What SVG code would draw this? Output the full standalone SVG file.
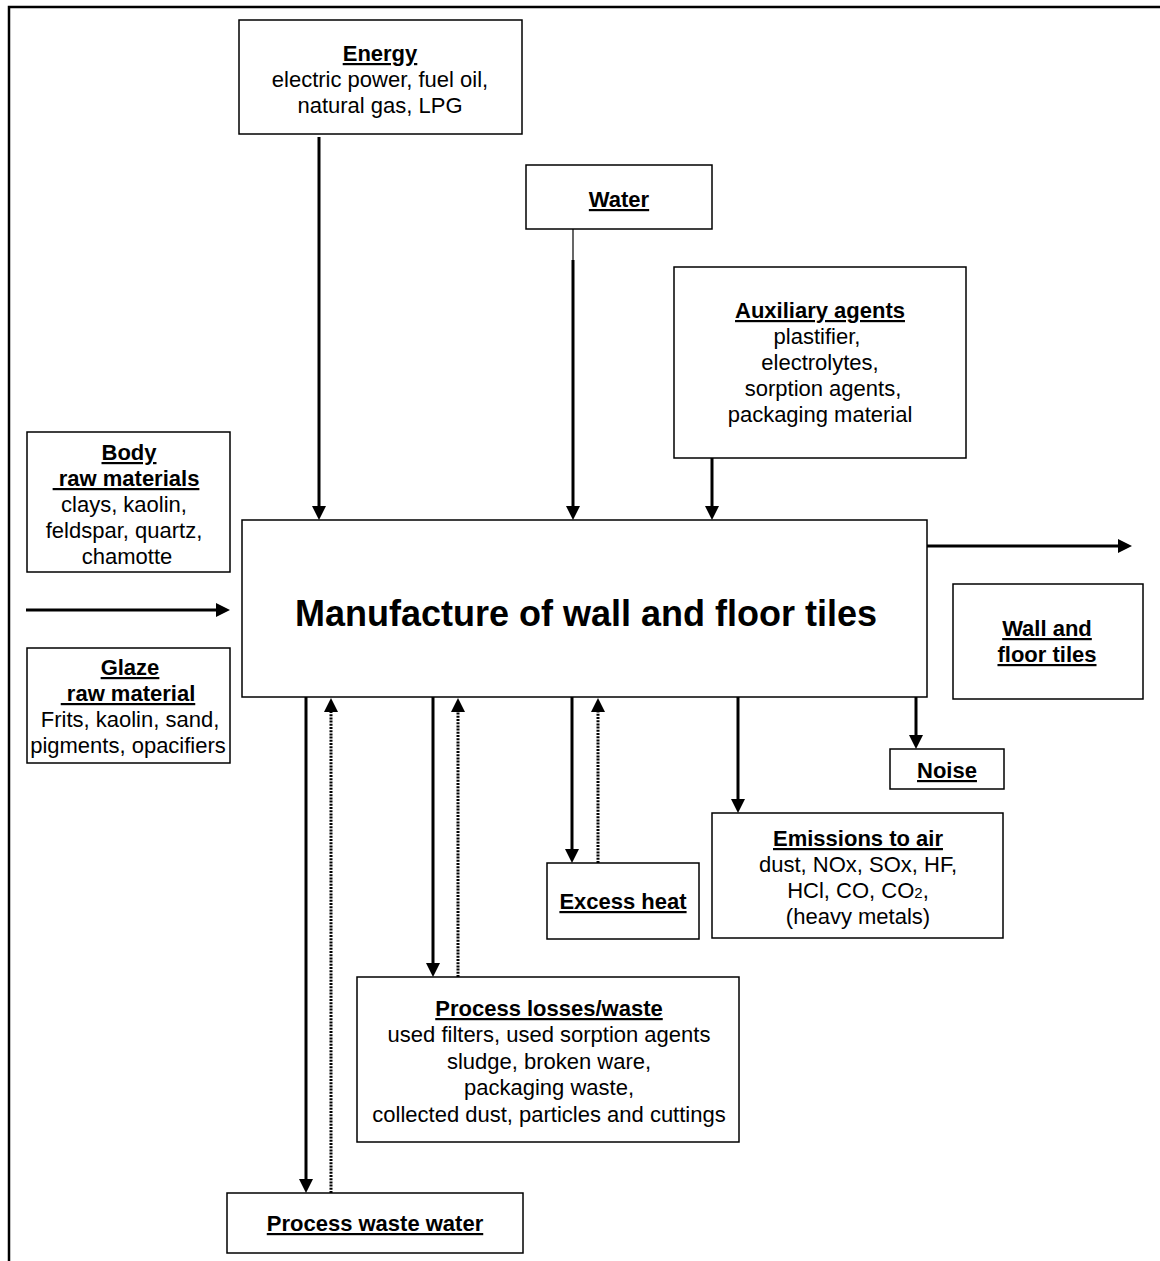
<svg xmlns="http://www.w3.org/2000/svg" width="1160" height="1261" viewBox="0 0 1160 1261">
<style>
  .box { fill: #fff; stroke: #000; stroke-width: 1.5; }
  .frame { fill: none; stroke: #000; stroke-width: 2.5; }
  text { font-family: "Liberation Sans", Arial, sans-serif; font-size: 22px; fill: #000; text-anchor: middle; }
  .h { font-weight: bold; text-decoration: underline; }
  .title { font-weight: bold; font-size: 36px; }
  .flow { fill: none; stroke: #000; stroke-width: 3; }
  .thin { fill: none; stroke: #000; stroke-width: 1.2; }
  .dot { fill: none; stroke: #000; stroke-width: 3; stroke-dasharray: 2 1.2; }
</style>
<defs>
  <marker id="ah" viewBox="0 0 14 14" markerWidth="14" markerHeight="14" markerUnits="userSpaceOnUse" refX="8" refY="7" orient="auto">
    <path d="M0,0 L14,7 L0,14 z" fill="#000"/>
  </marker>
</defs>
<rect width="1160" height="1261" fill="#fff"/>
<path class="frame" d="M9,1261 L9,7 L1160,7"/>

<g id="connectors">
  <line class="flow" x1="319" y1="137" x2="319" y2="514" marker-end="url(#ah)"/>
  <line class="thin" x1="573" y1="229" x2="573" y2="261"/>
  <line class="flow" x1="573" y1="260" x2="573" y2="514" marker-end="url(#ah)"/>
  <line class="flow" x1="712" y1="458" x2="712" y2="514" marker-end="url(#ah)"/>
  <line class="flow" x1="26" y1="610" x2="224" y2="610" marker-end="url(#ah)"/>
  <line class="flow" x1="927" y1="546" x2="1126" y2="546" marker-end="url(#ah)"/>
  <line class="flow" x1="306" y1="697" x2="306" y2="1187" marker-end="url(#ah)"/>
  <line class="dot" x1="331" y1="1193" x2="331" y2="704" marker-end="url(#ah)"/>
  <line class="flow" x1="433" y1="697" x2="433" y2="971" marker-end="url(#ah)"/>
  <line class="dot" x1="458" y1="977" x2="458" y2="704" marker-end="url(#ah)"/>
  <line class="flow" x1="572" y1="697" x2="572" y2="857" marker-end="url(#ah)"/>
  <line class="dot" x1="598" y1="863" x2="598" y2="704" marker-end="url(#ah)"/>
  <line class="flow" x1="738" y1="697" x2="738" y2="807" marker-end="url(#ah)"/>
  <line class="flow" x1="916" y1="697" x2="916" y2="743" marker-end="url(#ah)"/>
</g>

<g id="energy">
  <rect class="box" x="239" y="20" width="283" height="114"/>
  <text x="380" y="61" class="h">Energy</text>
  <text x="380" y="87">electric power, fuel oil,</text>
  <text x="380" y="113">natural gas, LPG</text>
</g>

<g id="water">
  <rect class="box" x="526" y="165" width="186" height="64"/>
  <text x="619" y="207" class="h">Water</text>
</g>

<g id="auxiliary">
  <rect class="box" x="674" y="267" width="292" height="191"/>
  <text x="820" y="318" class="h">Auxiliary agents</text>
  <text x="817" y="344">plastifier,</text>
  <text x="820" y="370">electrolytes,</text>
  <text x="823" y="396">sorption agents,</text>
  <text x="820" y="422">packaging material</text>
</g>

<g id="body">
  <rect class="box" x="27" y="432" width="203" height="140"/>
  <text x="129" y="460" class="h">Body</text>
  <text x="126" y="486" class="h" xml:space="preserve"> raw materials</text>
  <text x="124" y="512">clays, kaolin,</text>
  <text x="124" y="538">feldspar, quartz,</text>
  <text x="127" y="564">chamotte</text>
</g>

<g id="glaze">
  <rect class="box" x="27" y="648" width="203" height="115"/>
  <text x="130" y="675" class="h">Glaze</text>
  <text x="128" y="701" class="h" xml:space="preserve"> raw material</text>
  <text x="130" y="727">Frits, kaolin, sand,</text>
  <text x="128" y="753">pigments, opacifiers</text>
</g>

<g id="manufacture">
  <rect class="box" x="242" y="520" width="685" height="177"/>
  <text x="586" y="626" class="title">Manufacture of wall and floor tiles</text>
</g>

<g id="product">
  <rect class="box" x="953" y="584" width="190" height="115"/>
  <text x="1047" y="636" class="h">Wall and</text>
  <text x="1047" y="662" class="h">floor tiles</text>
</g>

<g id="noise">
  <rect class="box" x="890" y="749" width="114" height="40"/>
  <text x="947" y="778" class="h">Noise</text>
</g>

<g id="emissions">
  <rect class="box" x="712" y="813" width="291" height="125"/>
  <text x="858" y="846" class="h">Emissions to air</text>
  <text x="858" y="872">dust, NOx, SOx, HF,</text>
  <text x="858" y="898">HCl, CO, CO<tspan font-size="15">2</tspan>,</text>
  <text x="858" y="924">(heavy metals)</text>
</g>

<g id="excess-heat">
  <rect class="box" x="547" y="863" width="152" height="76"/>
  <text x="623" y="909" class="h">Excess heat</text>
</g>

<g id="process-losses">
  <rect class="box" x="357" y="977" width="382" height="165"/>
  <text x="549" y="1016" class="h">Process losses/waste</text>
  <text x="549" y="1042">used filters, used sorption agents</text>
  <text x="549" y="1069">sludge, broken ware,</text>
  <text x="549" y="1095">packaging waste,</text>
  <text x="549" y="1122">collected dust, particles and cuttings</text>
</g>

<g id="waste-water">
  <rect class="box" x="227" y="1193" width="296" height="60"/>
  <text x="375" y="1231" class="h">Process waste water</text>
</g>
</svg>
